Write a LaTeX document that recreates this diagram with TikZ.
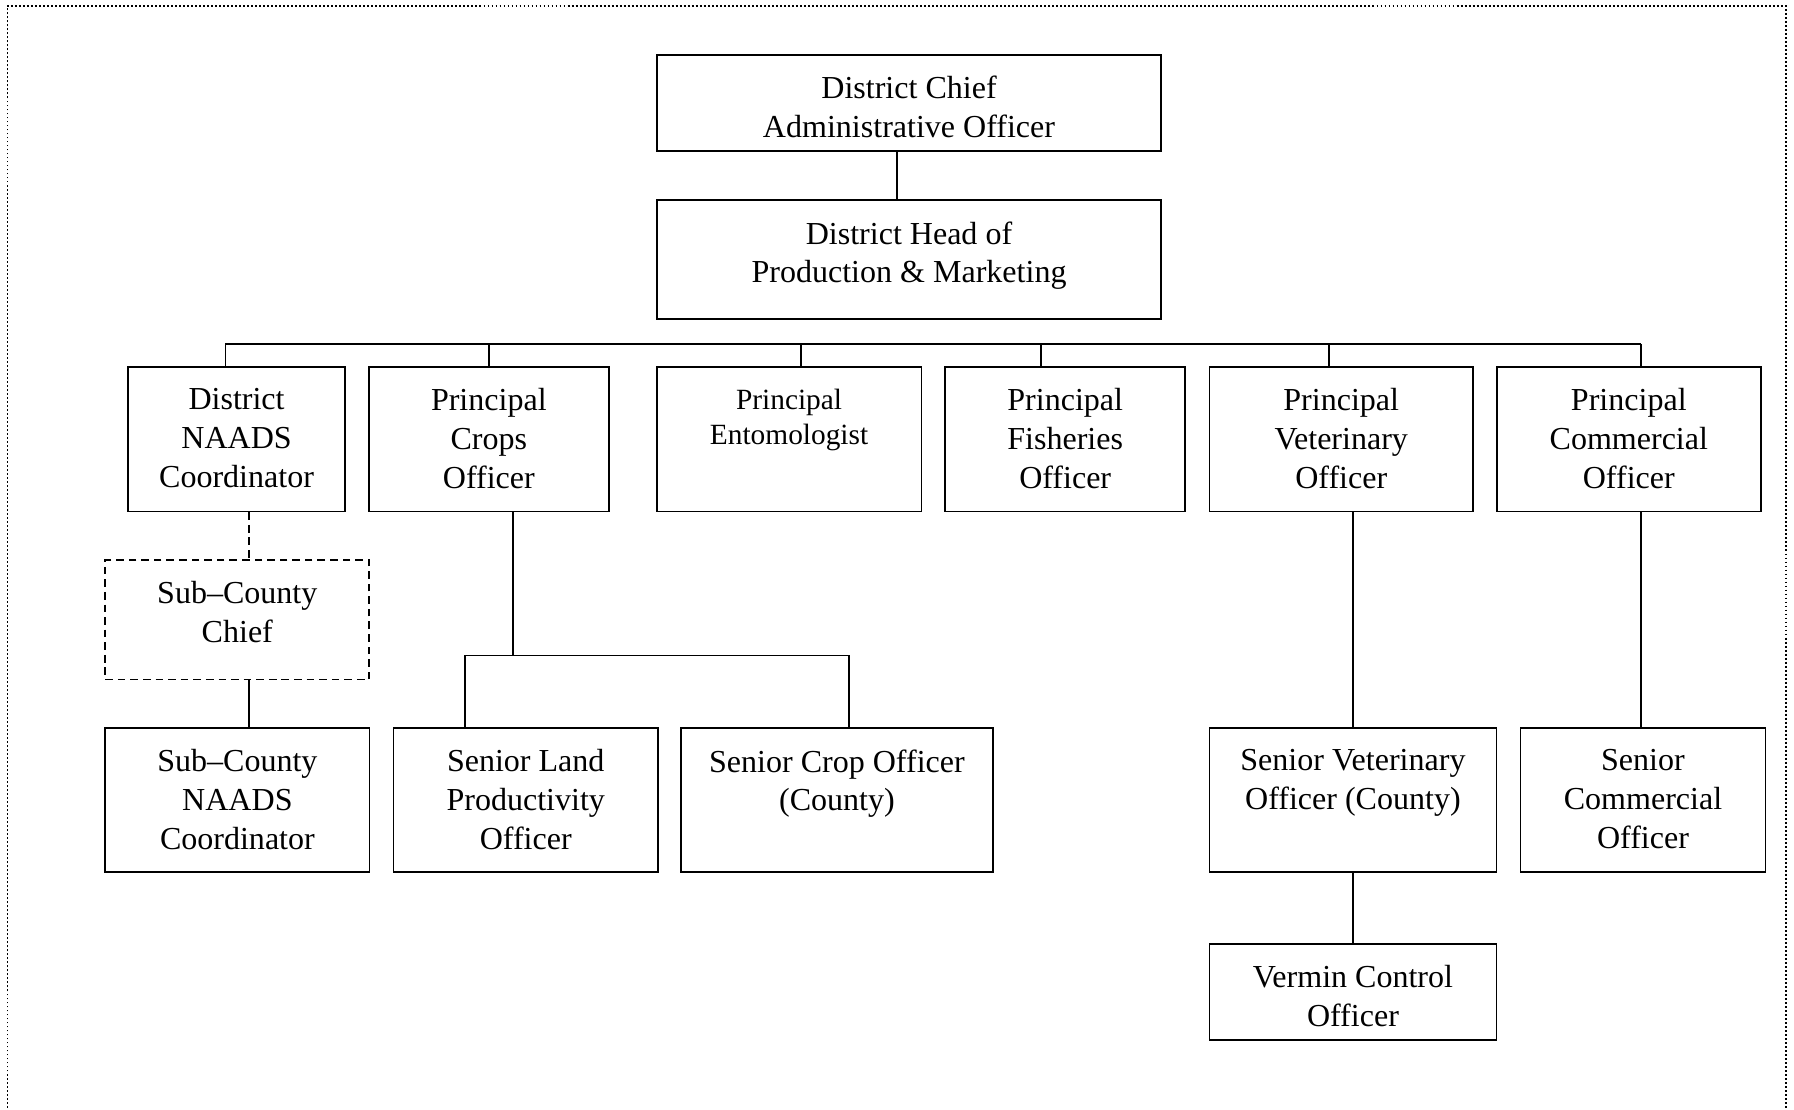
\documentclass[tikz,border=0pt]{standalone}
\usepackage{fontspec}
\setmainfont{Liberation Serif}
\usetikzlibrary{fit}
\tikzset{
  box/.style={draw, line width=0.9pt, inner sep=0pt},
  dbox/.style={box, dash pattern=on 4pt off 2.6pt},
  lbl/.style={anchor=north, inner sep=0pt, align=center,
    font=\fontsize{16.8}{20.4}\selectfont, execute at begin node=\strut},
  slbl/.style={anchor=north, inner sep=0pt, align=center,
    font=\fontsize{15.4}{18.6}\selectfont, execute at begin node=\strut},
  link/.style={line width=0.9pt},
  dlink/.style={link, dash pattern=on 4pt off 2.6pt},
  frame/.style={line width=0.6pt, dash pattern=on 1pt off 1.1pt},
}
\begin{document}
\begin{tikzpicture}[x=0.6pt,y=-0.6pt]
\useasboundingbox (0,0) rectangle (1568,970);
\coordinate (f1) at (6.4,975);
\coordinate (f2) at (6.4,5.2);
\coordinate (f3) at (1561,5.2);
\coordinate (f4) at (1561,975);
\draw[frame] (f1) -- (f2) -- (f3) -- (f4);

% boxes
\node[box, fit={(574,48)(1015,132)}] (cao) {};
\node[box, fit={(574,175)(1015,279)}] (head) {};
\node[box, fit={(112,321)(301.5,447)}] (naads) {};
\node[box, fit={(322.5,321)(532,447)}] (crops) {};
\node[box, fit={(574,321)(805.3,447)}] (ento) {};
\node[box, fit={(826,321)(1036,447)}] (fish) {};
\node[box, fit={(1057,321)(1287.5,447)}] (vet) {};
\node[box, fit={(1308.2,321)(1539,447)}] (comm) {};
\node[dbox, fit={(92,489.5)(322.8,594)}] (chief) {};
\node[box, fit={(92,636.5)(323,762)}] (scn) {};
\node[box, fit={(344,636.5)(575,762)}] (land) {};
\node[box, fit={(595,636.5)(868,762)}] (scrop) {};
\node[box, fit={(1057,636.5)(1308,762)}] (svet) {};
\node[box, fit={(1329,636.5)(1543,762)}] (scom) {};
\node[box, fit={(1057,825)(1308,909)}] (vermin) {};

% labels
\node[lbl, yshift=-11.4pt] (cao-t) at (cao.north) {District Chief\\Administrative Officer};
\node[lbl, yshift=-11.4pt] (head-t) at (head.north) {District Head of\\Production \& Marketing};
\node[lbl, yshift=-11.4pt] (naads-t) at (naads.north) {District\\NAADS\\Coordinator};
\node[lbl, yshift=-11.4pt] (crops-t) at (crops.north) {Principal\\Crops\\Officer};
\node[slbl, yshift=-11.6pt] (ento-t) at (ento.north) {Principal\\Entomologist};
\node[lbl, yshift=-11.4pt] (fish-t) at (fish.north) {Principal\\Fisheries\\Officer};
\node[lbl, yshift=-11.4pt] (vet-t) at (vet.north) {Principal\\Veterinary\\Officer};
\node[lbl, yshift=-11.4pt] (comm-t) at (comm.north) {Principal\\Commercial\\Officer};
\node[lbl, yshift=-11.4pt] (chief-t) at (chief.north) {Sub–County\\Chief};
\node[lbl, yshift=-11.4pt] (scn-t) at (scn.north) {Sub–County\\NAADS\\Coordinator};
\node[lbl, yshift=-11.4pt] (land-t) at (land.north) {Senior Land\\Productivity\\Officer};
\node[lbl, yshift=-11.4pt] (scrop-t) at (scrop.north) {Senior Crop Officer\\(County)};
\node[lbl, yshift=-11.4pt] (svet-t) at (svet.north) {Senior Veterinary\\Officer (County)};
\node[lbl, yshift=-11.4pt] (scom-t) at (scom.north) {Senior\\Commercial\\Officer};
\node[lbl, yshift=-11.4pt] (vermin-t) at (vermin.north) {Vermin Control\\Officer};

% connector coordinates
\coordinate (xa) at (784,0);
\coordinate (b1) at (197,300.5);
\coordinate (b2) at (427.7,300.5);
\coordinate (b3) at (700.1,300.5);
\coordinate (b4) at (909.9,300.5);
\coordinate (b5) at (1161.6,300.5);
\coordinate (b6) at (1434.3,300.5);
\coordinate (xd) at (217.6,0);
\coordinate (cj) at (448.1,572.8);
\coordinate (cl) at (406.4,572.8);
\coordinate (cr) at (742,572.8);
\coordinate (xv) at (1182.8,0);
\coordinate (xc) at (1434.3,0);

% connectors
\draw[link] (cao.south -| xa) -- (head.north -| xa);
\draw[link] (b1) -- (b6);
\draw[link] (b1) -- (b1 |- naads.north);
\draw[link] (b2) -- (b2 |- crops.north);
\draw[link] (b3) -- (b3 |- ento.north);
\draw[link] (b4) -- (b4 |- fish.north);
\draw[link] (b5) -- (b5 |- vet.north);
\draw[link] (b6) -- (b6 |- comm.north);
\draw[dlink] (naads.south -| xd) -- (chief.north -| xd);
\draw[link] (chief.south -| xd) -- (scn.north -| xd);
\draw[link] (crops.south -| cj) -- (cj);
\draw[link] (cl) -- (cr);
\draw[link] (cl) -- (cl |- land.north);
\draw[link] (cr) -- (cr |- scrop.north);
\draw[link] (vet.south -| xv) -- (svet.north -| xv);
\draw[link] (svet.south -| xv) -- (vermin.north -| xv);
\draw[link] (comm.south -| xc) -- (scom.north -| xc);
\end{tikzpicture}
\end{document}
